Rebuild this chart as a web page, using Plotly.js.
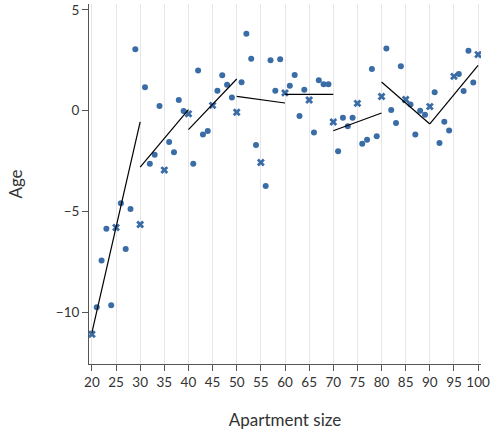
<!DOCTYPE html>
<html>
<head>
<meta charset="utf-8">
<script src="https://cdn.plot.ly/plotly-3.0.1.min.js"></script>
<style>html,body{margin:0;padding:0;background:#fff;}#chart{width:492px;height:437px;}</style>
</head>
<body>
<div id="chart"></div>
<script>
// Apartment sizes 20..100 and the observed (centred) age at each size
const sizes = [];
for (let s = 20; s <= 100; s++) sizes.push(s);
const ages = [
  -11.09, -9.75, -7.44, -5.86, -9.65, -5.80, -4.59, -6.87, -4.88, 3.05,
  -5.65, 1.16, -2.63, -2.19, 0.23, -2.95, -1.56, -2.07, 0.53, -0.02,
  -0.16, -2.63, 1.99, -1.19, -1.01, 0.26, 0.99, 1.75, 1.29, 0.65,
  -0.08, 1.41, 3.81, 2.57, -1.71, -2.57, -3.74, 2.50, 0.99, 2.55,
  0.88, 1.24, 1.77, -0.27, 1.04, 0.53, -1.08, 1.51, 1.31, 1.31,
  -0.56, -2.02, -0.35, -0.77, -0.35, 0.36, -1.64, -1.44, 2.07, -1.27,
  0.70, 3.08, 0.03, -0.61, 2.20, 0.55, 0.30, -1.19, 0.00, -0.21,
  0.20, 0.91, -1.61, -0.55, -0.99, 1.70, 1.82, 0.98, 2.97, 1.39,
  2.78
];

// Fitted line per 10-unit bin: start/end x and start/end y
const segStartX = [20, 30, 40, 50, 60, 70, 80, 90];
const segEndX   = [30, 40, 50, 60, 70, 80, 90, 100];
const segStartY = [-11.01, -2.80, -0.94, 0.71, 0.81, -1.00, 1.42, -0.66];
const segEndY   = [-0.56, 0.05, 1.57, 0.38, 0.81, -0.12, -0.66, 2.25];

const blue = '#3a6ca6';

// Sizes on multiples of 5 are drawn as crosses, the rest as dots
const dotX = [], dotY = [], crossX = [], crossY = [];
sizes.forEach((s, i) => {
  if (s % 5 === 0) { crossX.push(s); crossY.push(ages[i]); }
  else { dotX.push(s); dotY.push(ages[i]); }
});

const lineX = [], lineY = [];
segStartX.forEach((x0, i) => {
  lineX.push(x0, segEndX[i], null);
  lineY.push(segStartY[i], segEndY[i], null);
});

const traces = [
  {x: dotX, y: dotY, type: 'scatter', mode: 'markers',
   marker: {color: blue, size: 6, symbol: 'circle'}, hoverinfo: 'skip'},
  {x: crossX, y: crossY, type: 'scatter', mode: 'markers',
   marker: {color: blue, size: 7, symbol: 'x'}, hoverinfo: 'skip'},
  {x: lineX, y: lineY, type: 'scatter', mode: 'lines',
   line: {color: '#000', width: 1.2}, hoverinfo: 'skip'}
];

const font = {family: 'Lato, "Noto Sans", sans-serif', size: 13, color: '#333'};

const layout = {
  width: 492, height: 437,
  margin: {l: 89, r: 11, t: 4, b: 73},
  paper_bgcolor: '#fff', plot_bgcolor: '#fff',
  showlegend: false,
  font: font,
  xaxis: {
    range: [19.4, 100.6],
    tickvals: [20, 25, 30, 35, 40, 45, 50, 55, 60, 65, 70, 75, 80, 85, 90, 95, 100],
    showgrid: true, gridcolor: '#e6e6e6', gridwidth: 1,
    zeroline: false,
    showline: true, linecolor: '#555', linewidth: 1,
    ticks: 'outside', ticklen: 6, tickcolor: '#555',
    tickfont: {family: font.family, size: 13.5, color: '#333'},
    title: {text: 'Apartment size', standoff: 24,
            font: {family: font.family, size: 17, color: '#333'}}
  },
  yaxis: {
    range: [-12.57, 5.29],
    tickvals: [-10, -5, 0, 5],
    showgrid: false, zeroline: false,
    showline: true, linecolor: '#555', linewidth: 1,
    ticks: 'outside', ticklen: 6, tickcolor: '#555',
    tickfont: {family: font.family, size: 13.5, color: '#333'},
    title: {text: 'Age', standoff: 28,
            font: {family: font.family, size: 17, color: '#333'}}
  }
};

Plotly.newPlot('chart', traces, layout, {displayModeBar: false, staticPlot: true});
</script>
</body>
</html>
